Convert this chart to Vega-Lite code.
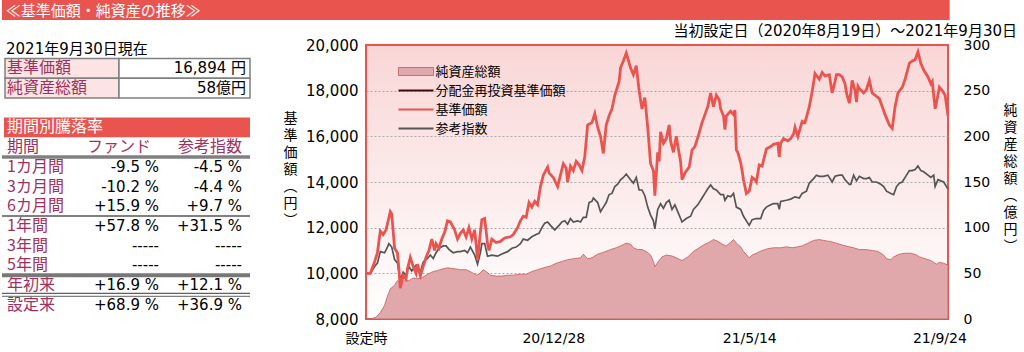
{
  "padding": 0,
  "background": "white",
  "config": {"view": {"stroke": null}, "font": "DejaVu Sans, Noto Sans CJK JP", "text": {"font": "DejaVu Sans, Noto Sans CJK JP"}},
  "datasets": {
    "upper": [{"k": "基準価額", "val": "16,894 円"}, {"k": "純資産総額", "val": "58億円"}],
    "periods": [
      {"k": "期間", "f": "ファンド", "i": "参考指数"},
      {"k": "1カ月間", "f": "-9.5 %", "i": "-4.5 %"},
      {"k": "3カ月間", "f": "-10.2 %", "i": "-4.4 %"},
      {"k": "6カ月間", "f": "+15.9 %", "i": "+9.7 %"},
      {"k": "1年間", "f": "+57.8 %", "i": "+31.5 %"},
      {"k": "3年間", "f": "-----", "i": "-----"},
      {"k": "5年間", "f": "-----", "i": "-----"},
      {"k": "年初来", "f": "+16.9 %", "i": "+12.1 %"},
      {"k": "設定来", "f": "+68.9 %", "i": "+36.9 %"}
    ],
    "nav": [
      {"t":"2020-08-19","v":10000},{"t":"2020-08-22","v":10000},{"t":"2020-08-25","v":10500},{"t":"2020-08-27","v":10900},{"t":"2020-08-29","v":11850},{"t":"2020-08-31","v":11700},{"t":"2020-09-02","v":11900},{"t":"2020-09-05","v":12700},{"t":"2020-09-06","v":12600},{"t":"2020-09-08","v":11100},{"t":"2020-09-10","v":10900},{"t":"2020-09-11","v":10200},{"t":"2020-09-12","v":9350},{"t":"2020-09-14","v":9900},{"t":"2020-09-16","v":9750},{"t":"2020-09-17","v":10200},{"t":"2020-09-19","v":10700},{"t":"2020-09-21","v":10300},{"t":"2020-09-23","v":10000},{"t":"2020-09-24","v":10400},{"t":"2020-09-26","v":9900},{"t":"2020-09-27","v":10100},{"t":"2020-09-30","v":10700},
      {"t":"2020-10-02","v":11000},{"t":"2020-10-04","v":11500},{"t":"2020-10-06","v":11000},{"t":"2020-10-07","v":11300},{"t":"2020-10-09","v":11100},{"t":"2020-10-11","v":11500},{"t":"2020-10-13","v":11800},{"t":"2020-10-15","v":12300},{"t":"2020-10-17","v":12250},{"t":"2020-10-20","v":11900},{"t":"2020-10-22","v":11500},{"t":"2020-10-24","v":11750},{"t":"2020-10-26","v":11900},{"t":"2020-10-28","v":11600},{"t":"2020-10-30","v":12000},
      {"t":"2020-11-01","v":11500},{"t":"2020-11-03","v":11900},{"t":"2020-11-05","v":10600},{"t":"2020-11-07","v":11800},{"t":"2020-11-08","v":12350},{"t":"2020-11-10","v":12400},{"t":"2020-11-12","v":11300},{"t":"2020-11-13","v":11000},{"t":"2020-11-15","v":11500},{"t":"2020-11-18","v":11350},{"t":"2020-11-21","v":11400},{"t":"2020-11-24","v":11550},{"t":"2020-11-28","v":11600},{"t":"2020-11-30","v":11700},
      {"t":"2020-12-03","v":12000},{"t":"2020-12-05","v":12300},{"t":"2020-12-07","v":12500},{"t":"2020-12-09","v":12450},{"t":"2020-12-11","v":13100},{"t":"2020-12-13","v":12900},{"t":"2020-12-15","v":13150},{"t":"2020-12-17","v":13000},{"t":"2020-12-19","v":13800},{"t":"2020-12-21","v":14300},{"t":"2020-12-24","v":14650},{"t":"2020-12-25","v":14400},{"t":"2020-12-28","v":14200},{"t":"2020-12-31","v":13800},
      {"t":"2021-01-02","v":14300},{"t":"2021-01-04","v":14800},{"t":"2021-01-06","v":14600},{"t":"2021-01-07","v":14000},{"t":"2021-01-09","v":14700},{"t":"2021-01-11","v":14500},{"t":"2021-01-13","v":14900},{"t":"2021-01-15","v":14750},{"t":"2021-01-17","v":14500},{"t":"2021-01-19","v":15100},{"t":"2021-01-21","v":16500},{"t":"2021-01-24","v":16600},{"t":"2021-01-26","v":17000},{"t":"2021-01-28","v":16400},{"t":"2021-01-30","v":16000},
      {"t":"2021-02-01","v":15250},{"t":"2021-02-03","v":16500},{"t":"2021-02-05","v":16900},{"t":"2021-02-07","v":17200},{"t":"2021-02-09","v":17800},{"t":"2021-02-12","v":18400},{"t":"2021-02-13","v":19000},{"t":"2021-02-15","v":19300},{"t":"2021-02-17","v":19650},{"t":"2021-02-20","v":19000},{"t":"2021-02-22","v":18700},{"t":"2021-02-24","v":19100},{"t":"2021-02-26","v":18000},{"t":"2021-02-28","v":17200},
      {"t":"2021-03-02","v":17700},{"t":"2021-03-04","v":16400},{"t":"2021-03-06","v":14800},{"t":"2021-03-08","v":14500},{"t":"2021-03-09","v":13400},{"t":"2021-03-11","v":15300},{"t":"2021-03-12","v":14900},{"t":"2021-03-13","v":16200},{"t":"2021-03-15","v":15700},{"t":"2021-03-17","v":15900},{"t":"2021-03-19","v":16500},{"t":"2021-03-20","v":15800},{"t":"2021-03-22","v":15300},{"t":"2021-03-24","v":16000},{"t":"2021-03-25","v":15600},{"t":"2021-03-27","v":14900},{"t":"2021-03-28","v":14100},{"t":"2021-03-30","v":14400},
      {"t":"2021-04-02","v":14650},{"t":"2021-04-04","v":15400},{"t":"2021-04-06","v":15550},{"t":"2021-04-09","v":16150},{"t":"2021-04-11","v":16600},{"t":"2021-04-13","v":16950},{"t":"2021-04-15","v":17300},{"t":"2021-04-17","v":17900},{"t":"2021-04-18","v":17600},{"t":"2021-04-19","v":17300},{"t":"2021-04-21","v":17800},{"t":"2021-04-23","v":17600},{"t":"2021-04-24","v":17200},{"t":"2021-04-26","v":16900},{"t":"2021-04-27","v":16300},{"t":"2021-04-28","v":16900},
      {"t":"2021-05-01","v":17100},{"t":"2021-05-03","v":16950},{"t":"2021-05-04","v":17150},{"t":"2021-05-05","v":15400},{"t":"2021-05-06","v":15300},{"t":"2021-05-08","v":14850},{"t":"2021-05-09","v":14500},{"t":"2021-05-10","v":14100},{"t":"2021-05-12","v":13500},{"t":"2021-05-14","v":13600},{"t":"2021-05-16","v":14200},{"t":"2021-05-18","v":14100},{"t":"2021-05-19","v":14000},{"t":"2021-05-21","v":14750},{"t":"2021-05-23","v":14700},{"t":"2021-05-25","v":15200},{"t":"2021-05-26","v":15450},{"t":"2021-05-29","v":15550},{"t":"2021-05-31","v":15650},
      {"t":"2021-06-03","v":15700},{"t":"2021-06-04","v":15100},{"t":"2021-06-05","v":15700},{"t":"2021-06-07","v":15900},{"t":"2021-06-10","v":15800},{"t":"2021-06-12","v":15900},{"t":"2021-06-14","v":16100},{"t":"2021-06-15","v":16400},{"t":"2021-06-17","v":16000},{"t":"2021-06-20","v":16650},{"t":"2021-06-22","v":16600},{"t":"2021-06-25","v":17300},{"t":"2021-06-27","v":17950},{"t":"2021-06-29","v":18750},
      {"t":"2021-07-02","v":18500},{"t":"2021-07-04","v":18800},{"t":"2021-07-06","v":18650},{"t":"2021-07-09","v":18700},{"t":"2021-07-11","v":17900},{"t":"2021-07-13","v":18400},{"t":"2021-07-14","v":18700},{"t":"2021-07-16","v":18700},{"t":"2021-07-18","v":18600},{"t":"2021-07-20","v":18300},{"t":"2021-07-21","v":17900},{"t":"2021-07-23","v":17450},{"t":"2021-07-24","v":17900},{"t":"2021-07-25","v":18450},{"t":"2021-07-27","v":18000},{"t":"2021-07-28","v":17500},{"t":"2021-07-29","v":18200},{"t":"2021-07-30","v":18100},
      {"t":"2021-08-02","v":17900},{"t":"2021-08-04","v":18050},{"t":"2021-08-06","v":18450},{"t":"2021-08-08","v":17900},{"t":"2021-08-10","v":17800},{"t":"2021-08-13","v":17650},{"t":"2021-08-15","v":17300},{"t":"2021-08-17","v":16950},{"t":"2021-08-20","v":16500},{"t":"2021-08-22","v":16350},{"t":"2021-08-24","v":17300},{"t":"2021-08-26","v":17900},{"t":"2021-08-29","v":18150},{"t":"2021-08-31","v":18500},
      {"t":"2021-09-03","v":19200},{"t":"2021-09-05","v":19300},{"t":"2021-09-07","v":19350},{"t":"2021-09-09","v":19700},{"t":"2021-09-11","v":19200},{"t":"2021-09-13","v":18900},{"t":"2021-09-16","v":18600},{"t":"2021-09-18","v":18300},{"t":"2021-09-19","v":18400},{"t":"2021-09-21","v":17200},{"t":"2021-09-22","v":17500},{"t":"2021-09-24","v":18150},{"t":"2021-09-26","v":18000},{"t":"2021-09-28","v":17800},{"t":"2021-09-30","v":16894}
    ],
    "idx": [
      {"t":"2020-08-19","v":10000},{"t":"2020-08-22","v":10000},{"t":"2020-08-25","v":10300},{"t":"2020-08-27","v":10450},{"t":"2020-08-29","v":10950},{"t":"2020-09-01","v":10900},{"t":"2020-09-03","v":11150},{"t":"2020-09-04","v":11300},{"t":"2020-09-06","v":11150},{"t":"2020-09-08","v":10600},{"t":"2020-09-10","v":10450},{"t":"2020-09-12","v":9700},{"t":"2020-09-14","v":10050},{"t":"2020-09-16","v":9900},{"t":"2020-09-18","v":10300},{"t":"2020-09-20","v":10100},{"t":"2020-09-23","v":10350},{"t":"2020-09-26","v":10050},{"t":"2020-09-28","v":10500},
      {"t":"2020-10-01","v":10650},{"t":"2020-10-03","v":10800},{"t":"2020-10-05","v":10650},{"t":"2020-10-07","v":10900},{"t":"2020-10-09","v":11100},{"t":"2020-10-12","v":11200},{"t":"2020-10-14","v":11200},{"t":"2020-10-16","v":11050},{"t":"2020-10-19","v":10900},{"t":"2020-10-22","v":10950},{"t":"2020-10-24","v":10950},{"t":"2020-10-27","v":11000},{"t":"2020-10-29","v":10900},{"t":"2020-10-31","v":11150},
      {"t":"2020-11-03","v":10800},{"t":"2020-11-05","v":10400},{"t":"2020-11-07","v":10900},{"t":"2020-11-08","v":11300},{"t":"2020-11-10","v":11300},{"t":"2020-11-12","v":10750},{"t":"2020-11-15","v":10800},{"t":"2020-11-19","v":10750},{"t":"2020-11-22","v":10850},{"t":"2020-11-26","v":10950},{"t":"2020-11-29","v":11100},
      {"t":"2020-12-02","v":11150},{"t":"2020-12-05","v":11300},{"t":"2020-12-07","v":11500},{"t":"2020-12-10","v":11450},{"t":"2020-12-13","v":11600},{"t":"2020-12-16","v":11700},{"t":"2020-12-18","v":11750},{"t":"2020-12-20","v":12000},{"t":"2020-12-22","v":12200},{"t":"2020-12-24","v":12250},{"t":"2020-12-26","v":12100},{"t":"2020-12-29","v":11900},
      {"t":"2021-01-01","v":12100},{"t":"2021-01-03","v":12250},{"t":"2021-01-05","v":12300},{"t":"2021-01-07","v":12150},{"t":"2021-01-09","v":12400},{"t":"2021-01-11","v":12250},{"t":"2021-01-14","v":12300},{"t":"2021-01-16","v":12250},{"t":"2021-01-18","v":12450},{"t":"2021-01-20","v":12450},{"t":"2021-01-22","v":13100},{"t":"2021-01-24","v":13150},{"t":"2021-01-25","v":13300},{"t":"2021-01-28","v":13100},{"t":"2021-01-30","v":12700},
      {"t":"2021-02-01","v":12900},{"t":"2021-02-03","v":13100},{"t":"2021-02-05","v":13450},{"t":"2021-02-07","v":13500},{"t":"2021-02-09","v":13800},{"t":"2021-02-11","v":13900},{"t":"2021-02-13","v":14100},{"t":"2021-02-15","v":14200},{"t":"2021-02-17","v":14350},{"t":"2021-02-20","v":14100},{"t":"2021-02-22","v":13950},{"t":"2021-02-24","v":14200},{"t":"2021-02-26","v":13650},{"t":"2021-02-28","v":13650},
      {"t":"2021-03-02","v":13400},{"t":"2021-03-04","v":12900},{"t":"2021-03-06","v":12550},{"t":"2021-03-08","v":12300},{"t":"2021-03-09","v":11950},{"t":"2021-03-11","v":12800},{"t":"2021-03-13","v":13050},{"t":"2021-03-15","v":12850},{"t":"2021-03-17","v":13100},{"t":"2021-03-19","v":13200},{"t":"2021-03-21","v":12800},{"t":"2021-03-23","v":13000},{"t":"2021-03-25","v":12700},{"t":"2021-03-28","v":12250},{"t":"2021-03-31","v":12400},
      {"t":"2021-04-03","v":12500},{"t":"2021-04-05","v":12800},{"t":"2021-04-08","v":13000},{"t":"2021-04-11","v":13300},{"t":"2021-04-13","v":13500},{"t":"2021-04-15","v":13700},{"t":"2021-04-17","v":13870},{"t":"2021-04-19","v":13700},{"t":"2021-04-21","v":13650},{"t":"2021-04-24","v":13450},{"t":"2021-04-26","v":13450},{"t":"2021-04-27","v":13200},{"t":"2021-04-29","v":13400},
      {"t":"2021-05-01","v":13350},{"t":"2021-05-03","v":13500},{"t":"2021-05-05","v":12900},{"t":"2021-05-08","v":12800},{"t":"2021-05-10","v":12500},{"t":"2021-05-14","v":12100},{"t":"2021-05-16","v":12350},{"t":"2021-05-19","v":12400},{"t":"2021-05-22","v":12400},{"t":"2021-05-24","v":12750},{"t":"2021-05-26","v":12900},{"t":"2021-05-29","v":13000},{"t":"2021-05-31","v":13050},
      {"t":"2021-06-03","v":13050},{"t":"2021-06-04","v":12800},{"t":"2021-06-05","v":13150},{"t":"2021-06-09","v":13200},{"t":"2021-06-12","v":13250},{"t":"2021-06-15","v":13350},{"t":"2021-06-18","v":13300},{"t":"2021-06-20","v":13500},{"t":"2021-06-23","v":13600},{"t":"2021-06-25","v":13950},{"t":"2021-06-28","v":14150},{"t":"2021-06-30","v":14300},
      {"t":"2021-07-02","v":14250},{"t":"2021-07-05","v":14250},{"t":"2021-07-08","v":14300},{"t":"2021-07-11","v":14000},{"t":"2021-07-13","v":14250},{"t":"2021-07-16","v":14300},{"t":"2021-07-18","v":14300},{"t":"2021-07-20","v":14100},{"t":"2021-07-23","v":13900},{"t":"2021-07-24","v":13900},{"t":"2021-07-26","v":14300},{"t":"2021-07-28","v":14050},{"t":"2021-07-30","v":14250},
      {"t":"2021-08-02","v":14150},{"t":"2021-08-04","v":14150},{"t":"2021-08-06","v":14200},{"t":"2021-08-08","v":14000},{"t":"2021-08-11","v":14000},{"t":"2021-08-14","v":13900},{"t":"2021-08-16","v":13800},{"t":"2021-08-18","v":13600},{"t":"2021-08-21","v":13500},{"t":"2021-08-23","v":13450},{"t":"2021-08-25","v":13800},{"t":"2021-08-27","v":13950},{"t":"2021-08-29","v":14000},
      {"t":"2021-09-01","v":14300},{"t":"2021-09-03","v":14500},{"t":"2021-09-05","v":14500},{"t":"2021-09-07","v":14550},{"t":"2021-09-09","v":14700},{"t":"2021-09-11","v":14500},{"t":"2021-09-13","v":14450},{"t":"2021-09-16","v":14300},{"t":"2021-09-18","v":14200},{"t":"2021-09-20","v":14300},{"t":"2021-09-21","v":13800},{"t":"2021-09-23","v":14100},{"t":"2021-09-25","v":14050},{"t":"2021-09-27","v":14000},{"t":"2021-09-30","v":13690}
    ],
    "aum": [
      {"t":"2020-08-19","v":0},{"t":"2020-08-23","v":0.5},{"t":"2020-08-26","v":2},{"t":"2020-08-29","v":7},{"t":"2020-09-01","v":15},{"t":"2020-09-03","v":25},{"t":"2020-09-05","v":33},{"t":"2020-09-08","v":37},{"t":"2020-09-10","v":42},{"t":"2020-09-12","v":40},{"t":"2020-09-15","v":42},{"t":"2020-09-18","v":42},{"t":"2020-09-21","v":45},{"t":"2020-09-24","v":44},{"t":"2020-09-28","v":46},
      {"t":"2020-10-01","v":49},{"t":"2020-10-05","v":52},{"t":"2020-10-08","v":53},{"t":"2020-10-12","v":55},{"t":"2020-10-15","v":56},{"t":"2020-10-20","v":55},{"t":"2020-10-24","v":54},{"t":"2020-10-28","v":54},
      {"t":"2020-11-01","v":51},{"t":"2020-11-04","v":48},{"t":"2020-11-06","v":49},{"t":"2020-11-09","v":54},{"t":"2020-11-11","v":52},{"t":"2020-11-14","v":48},{"t":"2020-11-18","v":47},{"t":"2020-11-22","v":47},{"t":"2020-11-26","v":48},{"t":"2020-11-30","v":48},
      {"t":"2020-12-05","v":49},{"t":"2020-12-09","v":49},{"t":"2020-12-13","v":52},{"t":"2020-12-17","v":54},{"t":"2020-12-21","v":56},{"t":"2020-12-26","v":58},{"t":"2020-12-30","v":61},
      {"t":"2021-01-03","v":63},{"t":"2021-01-07","v":65},{"t":"2021-01-11","v":66},{"t":"2021-01-16","v":67},{"t":"2021-01-18","v":71},{"t":"2021-01-21","v":66},{"t":"2021-01-24","v":67},{"t":"2021-01-28","v":71},
      {"t":"2021-02-01","v":73},{"t":"2021-02-06","v":76},{"t":"2021-02-10","v":78},{"t":"2021-02-13","v":80},{"t":"2021-02-17","v":83},{"t":"2021-02-20","v":82},{"t":"2021-02-22","v":78},{"t":"2021-02-25","v":76},{"t":"2021-02-28","v":76},
      {"t":"2021-03-03","v":74},{"t":"2021-03-06","v":70},{"t":"2021-03-08","v":63},{"t":"2021-03-09","v":57},{"t":"2021-03-11","v":62},{"t":"2021-03-14","v":68},{"t":"2021-03-17","v":70},{"t":"2021-03-21","v":69},{"t":"2021-03-24","v":67},{"t":"2021-03-28","v":64},
      {"t":"2021-04-01","v":68},{"t":"2021-04-05","v":74},{"t":"2021-04-09","v":78},{"t":"2021-04-12","v":81},{"t":"2021-04-16","v":84},{"t":"2021-04-19","v":87},{"t":"2021-04-22","v":85},{"t":"2021-04-25","v":82},{"t":"2021-04-28","v":80},
      {"t":"2021-05-01","v":84},{"t":"2021-05-03","v":87},{"t":"2021-05-05","v":83},{"t":"2021-05-08","v":79},{"t":"2021-05-10","v":74},{"t":"2021-05-14","v":67},{"t":"2021-05-16","v":70},{"t":"2021-05-19","v":72},{"t":"2021-05-23","v":75},{"t":"2021-05-27","v":77},{"t":"2021-05-31","v":78},
      {"t":"2021-06-05","v":78},{"t":"2021-06-09","v":79},{"t":"2021-06-13","v":78},{"t":"2021-06-17","v":79},{"t":"2021-06-20","v":80},{"t":"2021-06-24","v":83},{"t":"2021-06-28","v":86},
      {"t":"2021-07-02","v":87},{"t":"2021-07-05","v":86},{"t":"2021-07-09","v":85},{"t":"2021-07-14","v":83},{"t":"2021-07-18","v":81},{"t":"2021-07-23","v":79},{"t":"2021-07-26","v":78},{"t":"2021-07-30","v":76},
      {"t":"2021-08-04","v":76},{"t":"2021-08-08","v":75},{"t":"2021-08-12","v":74},{"t":"2021-08-16","v":70},{"t":"2021-08-18","v":66},{"t":"2021-08-21","v":65},{"t":"2021-08-23","v":68},{"t":"2021-08-27","v":71},{"t":"2021-08-31","v":72},
      {"t":"2021-09-04","v":72},{"t":"2021-09-08","v":70},{"t":"2021-09-10","v":68},{"t":"2021-09-14","v":66},{"t":"2021-09-18","v":64},{"t":"2021-09-20","v":62},{"t":"2021-09-22","v":60},{"t":"2021-09-24","v":62},{"t":"2021-09-27","v":61},{"t":"2021-09-30","v":59}
    ]
  },
  "spacing": 25,
  "bounds": "flush",
  "resolve": {"scale": {"x": "independent", "y": "independent", "color": "independent", "fill": "independent", "stroke": "independent"}},
  "vconcat": [
    {
      "width": 1021,
      "height": 20,
      "data": {"values": [{"t": "≪基準価額・純資産の推移≫"}]},
      "layer": [
        {"mark": {"type": "rect", "color": "#E9544F"},
         "encoding": {"x": {"datum": 0, "type": "quantitative", "scale": {"domain": [0, 1021]}, "axis": null}, "x2": {"datum": 1021}}},
        {"mark": {"type": "text", "align": "left", "baseline": "middle", "color": "#FFFFFF", "font": "Noto Sans CJK JP", "fontSize": 15, "dy": 1},
         "encoding": {"x": {"datum": 4, "type": "quantitative", "axis": null}, "text": {"field": "t"}}}
      ]
    },
    {
      "spacing": 114,
      "bounds": "flush",
      "resolve": {"scale": {"x": "independent", "y": "independent", "color": "independent", "fill": "independent", "stroke": "independent"}},
      "hconcat": [
        {
          "width": 250,
          "height": 274,
          "encoding": {"y": {"field": "k", "type": "nominal", "axis": null,
            "scale": {"type": "band", "domain": ["2021年9月30日現在", "基準価額", "純資産総額", "_", "期間別騰落率", "期間", "1カ月間", "3カ月間", "6カ月間", "1年間", "3年間", "5年間", "年初来", "設定来"], "range": [-6.2, 269.6], "paddingInner": 0, "paddingOuter": 0}}},
          "layer": [
            {"data": {"values": [{"k": "2021年9月30日現在"}]},
             "mark": {"type": "text", "align": "left", "baseline": "middle", "fontSize": 15, "color": "#000000"},
             "encoding": {"x": {"datum": 4, "type": "quantitative", "scale": {"domain": [0, 250]}, "axis": null}, "text": {"field": "k"}}},
            {"data": {"name": "upper"},
             "mark": {"type": "rect", "fill": "#FCE4E4", "stroke": "#808080", "strokeWidth": 1.5},
             "encoding": {"x": {"datum": 3, "type": "quantitative", "scale": {"domain": [0, 250]}, "axis": null}, "x2": {"datum": 117}}},
            {"data": {"name": "upper"},
             "mark": {"type": "rect", "fill": "#FFFFFF", "stroke": "#808080", "strokeWidth": 1.5},
             "encoding": {"x": {"datum": 117, "type": "quantitative", "scale": {"domain": [0, 250]}, "axis": null}, "x2": {"datum": 248}}},
            {"data": {"name": "upper"},
             "mark": {"type": "text", "align": "left", "baseline": "middle", "font": "Noto Sans CJK JP", "fontSize": 16, "color": "#A03060"},
             "encoding": {"x": {"datum": 5, "type": "quantitative", "scale": {"domain": [0, 250]}, "axis": null}, "text": {"field": "k"}}},
            {"data": {"name": "upper"},
             "mark": {"type": "text", "align": "right", "baseline": "middle", "fontSize": 15, "color": "#000000"},
             "encoding": {"x": {"datum": 244, "type": "quantitative", "scale": {"domain": [0, 250]}, "axis": null}, "text": {"field": "val"}}},
            {"data": {"values": [{"k": "期間別騰落率"}]},
             "mark": {"type": "rect", "fill": "#E9544F"},
             "encoding": {"x": {"datum": 2, "type": "quantitative", "scale": {"domain": [0, 250]}, "axis": null}, "x2": {"datum": 248}}},
            {"data": {"values": [{"k": "期間別騰落率"}]},
             "mark": {"type": "text", "align": "left", "baseline": "middle", "font": "Noto Sans CJK JP", "fontSize": 16, "color": "#FFFFFF"},
             "encoding": {"x": {"datum": 5, "type": "quantitative", "scale": {"domain": [0, 250]}, "axis": null}, "text": {"field": "k"}}},
            {"data": {"name": "periods"},
             "mark": {"type": "text", "align": "left", "baseline": "middle", "font": "Noto Sans CJK JP", "fontSize": 16, "color": "#A03060"},
             "encoding": {"x": {"datum": 5, "type": "quantitative", "scale": {"domain": [0, 250]}, "axis": null}, "text": {"field": "k"}}},
            {"data": {"name": "periods"}, "transform": [{"filter": "datum.k === '期間'"}],
             "mark": {"type": "text", "align": "right", "baseline": "middle", "font": "Noto Sans CJK JP", "fontSize": 16, "color": "#A03060"},
             "encoding": {"x": {"datum": 149, "type": "quantitative", "scale": {"domain": [0, 250]}, "axis": null}, "text": {"field": "f"}}},
            {"data": {"name": "periods"}, "transform": [{"filter": "datum.k === '期間'"}],
             "mark": {"type": "text", "align": "right", "baseline": "middle", "font": "Noto Sans CJK JP", "fontSize": 16, "color": "#A03060"},
             "encoding": {"x": {"datum": 240, "type": "quantitative", "scale": {"domain": [0, 250]}, "axis": null}, "text": {"field": "i"}}},
            {"data": {"name": "periods"}, "transform": [{"filter": "datum.k !== '期間'"}],
             "mark": {"type": "text", "align": "right", "baseline": "middle", "fontSize": 15, "color": "#000000"},
             "encoding": {"x": {"datum": 157, "type": "quantitative", "scale": {"domain": [0, 250]}, "axis": null}, "text": {"field": "f"}}},
            {"data": {"name": "periods"}, "transform": [{"filter": "datum.k !== '期間'"}],
             "mark": {"type": "text", "align": "right", "baseline": "middle", "fontSize": 15, "color": "#000000"},
             "encoding": {"x": {"datum": 240, "type": "quantitative", "scale": {"domain": [0, 250]}, "axis": null}, "text": {"field": "i"}}},
            {"data": {"name": "periods"}, "transform": [{"filter": "datum.k === '期間'"}],
             "mark": {"type": "rule", "color": "#808080", "strokeWidth": 3.5},
             "encoding": {"x": {"datum": 0, "type": "quantitative", "scale": {"domain": [0, 250]}, "axis": null}, "x2": {"datum": 248},
                          "y": {"field": "k", "type": "nominal", "bandPosition": 1, "axis": null}}},
            {"data": {"name": "periods"}, "transform": [{"filter": "datum.k === '6カ月間'"}],
             "mark": {"type": "rule", "color": "#808080", "strokeWidth": 2},
             "encoding": {"x": {"datum": 0, "type": "quantitative", "scale": {"domain": [0, 250]}, "axis": null}, "x2": {"datum": 248},
                          "y": {"field": "k", "type": "nominal", "bandPosition": 1, "axis": null}}},
            {"data": {"name": "periods"}, "transform": [{"filter": "datum.k === '5年間'"}],
             "mark": {"type": "rule", "color": "#777777", "strokeWidth": 4},
             "encoding": {"x": {"datum": 0, "type": "quantitative", "scale": {"domain": [0, 250]}, "axis": null}, "x2": {"datum": 248},
                          "y": {"field": "k", "type": "nominal", "bandPosition": 1, "axis": null}}},
            {"data": {"name": "periods"}, "transform": [{"filter": "datum.k === '年初来'"}],
             "mark": {"type": "rule", "color": "#606060", "strokeWidth": 1.3, "yOffset": -1.5},
             "encoding": {"x": {"datum": 0, "type": "quantitative", "scale": {"domain": [0, 250]}, "axis": null}, "x2": {"datum": 248},
                          "y": {"field": "k", "type": "nominal", "bandPosition": 1, "axis": null}}},
            {"data": {"name": "periods"}, "transform": [{"filter": "datum.k === '年初来'"}],
             "mark": {"type": "rule", "color": "#808080", "strokeWidth": 1.3, "yOffset": 1.5},
             "encoding": {"x": {"datum": 0, "type": "quantitative", "scale": {"domain": [0, 250]}, "axis": null}, "x2": {"datum": 248},
                          "y": {"field": "k", "type": "nominal", "bandPosition": 1, "axis": null}}}
          ]
        },
        {
          "width": 582,
          "height": 274,
          "view": {"stroke": "#E9544F", "strokeWidth": 2,
                   "fill": {"gradient": "linear", "x1": 0, "y1": 0, "x2": 0, "y2": 1, "stops": [{"offset": 0, "color": "#F9D6D6"}, {"offset": 1, "color": "#FFFFFF"}]}},
          "title": {"text": "当初設定日（2020年8月19日）～2021年9月30日", "anchor": "end", "orient": "top", "offset": 10, "dy": 23, "baseline": "alphabetic", "fontSize": 15, "fontWeight": "normal", "font": "DejaVu Sans, Noto Sans CJK JP", "color": "#000000"},
          "resolve": {"scale": {"y": "independent"}, "axis": {"y": "independent"}},
          "layer": [
            {"data": {"name": "aum"},
             "mark": {"type": "area", "stroke": "#C75A58", "strokeWidth": 0.8, "fillOpacity": 1, "opacity": 1},
             "encoding": {
               "x": {"field": "t", "type": "temporal",
                     "scale": {"type": "utc", "domain": [{"year": 2020, "month": 8, "date": 19, "utc": true}, {"year": 2021, "month": 9, "date": 30, "utc": true}]},
                     "axis": {"values": [{"year": 2020, "month": 8, "date": 19, "utc": true}, {"year": 2020, "month": 12, "date": 28, "utc": true}, {"year": 2021, "month": 5, "date": 14, "utc": true}, {"year": 2021, "month": 9, "date": 24, "utc": true}],
                              "labelExpr": "utcFormat(datum.value, '%m-%d') === '08-19' ? '設定時' : utcFormat(datum.value, '%y/%-m/%-d')",
                              "title": null, "grid": false, "domain": false, "ticks": true, "tickSize": -5, "tickColor": "#E9544F", "tickWidth": 1.2,
                              "labelPadding": 17, "labelFlush": false, "labelOverlap": false, "labelFont": "DejaVu Sans, Noto Sans CJK JP", "labelFontSize": 14, "labelColor": "#000000"}},
               "y": {"field": "v", "type": "quantitative", "scale": {"domain": [0, 300], "nice": false},
                     "axis": {"orient": "right", "values": [0, 50, 100, 150, 200, 250, 300], "grid": false, "ticks": false, "domain": false,
                              "labelPadding": 15, "labelFont": "DejaVu Sans, Noto Sans CJK JP", "labelFontSize": 14, "labelColor": "#000000",
                              "title": ["純", "資", "産", "総", "額", "︵", "億", "円", "︶"], "titleAngle": 0, "titleX": 62, "titleY": 58, "titleAlign": "center", "titleBaseline": "top",
                              "titleFont": "Noto Sans CJK JP", "titleFontSize": 14, "titleFontWeight": "normal", "titleLineHeight": 17, "titleColor": "#000000"}},
               "fill": {"datum": "純資産総額",
                        "scale": {"domain": ["純資産総額"], "range": ["#E0A8AA"]},
                        "legend": {"orient": "none", "legendX": 31, "legendY": 20, "title": null, "padding": 0,
                                   "labelFont": "Noto Sans CJK JP", "labelFontSize": 13, "labelColor": "#000000", "labelOffset": 13,
                                   "symbolSize": 100, "symbolOffset": 12.5, "symbolType": "M-3.5,-0.8H3.5V0.8H-3.5Z",
                                   "symbolStrokeColor": "#C75A58", "symbolStrokeWidth": 0.8, "symbolOpacity": 1}}
             }},
            {"layer": [
              {"data": {"name": "idx"},
               "mark": {"type": "line", "strokeWidth": 1.7},
               "encoding": {
                 "x": {"field": "t", "type": "temporal"},
                 "y": {"field": "v", "type": "quantitative", "scale": {"domain": [8000, 20000], "nice": false},
                       "axis": {"orient": "left", "values": [8000, 10000, 12000, 14000, 16000, 18000, 20000], "labelExpr": "format(datum.value, ',')",
                                "grid": true, "gridColor": "#9A9A9A", "gridDash": [2, 2], "gridWidth": 0.8,
                                "gridOpacity": {"condition": {"test": "datum.value === 8000 || datum.value === 20000", "value": 0}, "value": 1},
                                "ticks": false, "domain": false, "labelPadding": 8,
                                "labelFont": "DejaVu Sans, Noto Sans CJK JP", "labelFontSize": 15, "labelColor": "#000000",
                                "title": ["基", "準", "価", "額", "︵", "円", "︶"], "titleAngle": 0, "titleX": -76, "titleY": 66, "titleAlign": "center", "titleBaseline": "top",
                                "titleFont": "Noto Sans CJK JP", "titleFontSize": 14, "titleFontWeight": "normal", "titleLineHeight": 17, "titleColor": "#000000"}},
                 "stroke": {"datum": "参考指数",
                            "scale": {"domain": ["分配金再投資基準価額", "基準価額", "参考指数"], "range": ["#3B0F0F", "#E9544F", "#555555"]},
                            "legend": {"orient": "none", "legendX": 31, "legendY": 39, "title": null, "padding": 0,
                                       "labelFont": "Noto Sans CJK JP", "labelFontSize": 13, "labelColor": "#000000", "labelOffset": 13,
                                       "symbolSize": 100, "symbolOffset": 12.5, "rowPadding": 5, "symbolType": "M-3.5,0H3.5",
                                       "symbolStrokeWidth": 2.2, "symbolOpacity": 1}}
               }},
              {"data": {"name": "nav"},
               "mark": {"type": "line", "strokeWidth": 2.8},
               "encoding": {
                 "x": {"field": "t", "type": "temporal"},
                 "y": {"field": "v", "type": "quantitative"},
                 "stroke": {"datum": "基準価額"}
               }}
            ]}
          ]
        }
      ]
    }
  ]
}
